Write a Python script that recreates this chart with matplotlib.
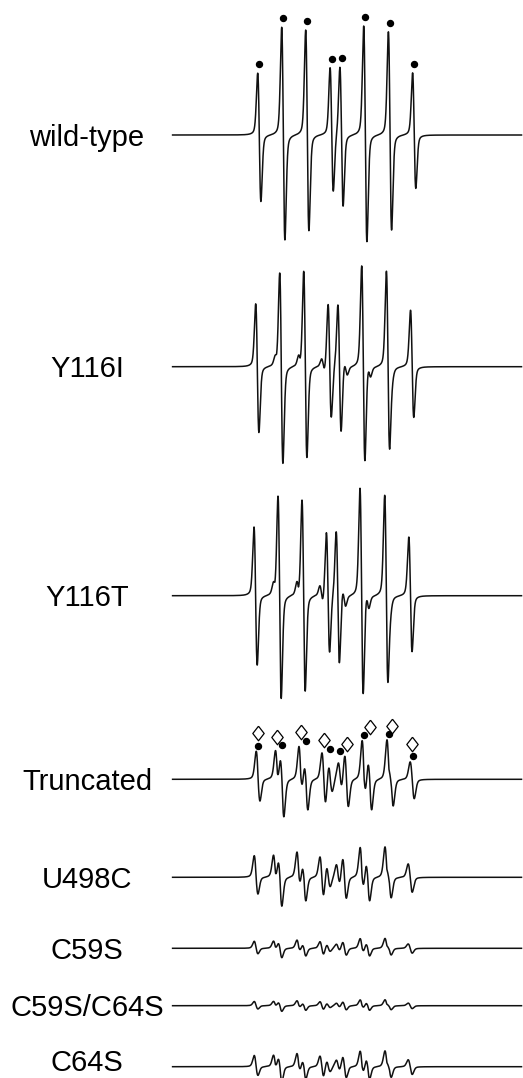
import numpy as np
import matplotlib
matplotlib.use("Agg")
import matplotlib.pyplot as plt

# ---------------- data ----------------
labels = ["wild-type", "Y116I", "Y116T", "Truncated", "U498C", "C59S", "C59S/C64S", "C64S"]

# line centres (field, arbitrary units) of the main radical (filled dots)
dot_lines = [87.3, 111.3, 135.3, 159.7, 169.5, 193.3, 218.0, 242.2]
# line centres of the second radical (open diamonds)
diamond_lines = [87.5, 106.6, 130.1, 153.1, 175.8, 199.1, 220.8, 240.8]

# peak heights (positive lobe) and depths (negative lobe) of each line
wt_pos = [61.7, 107.7, 105.0, 66.7, 69.0, 109.0, 103.3, 62.3]
wt_neg = [66.7, 105.0, 95.7, 57.7, 70.7, 106.7, 95.0, 53.3]
y116i_pos = [59.3, 95.0, 96.7, 62.3, 62.7, 100.7, 95.0, 56.0]
y116i_neg = [63.3, 96.7, 90.7, 51.7, 65.0, 95.0, 85.7, 49.0]
y116t_pos = [64.0, 101.3, 97.3, 63.3, 65.0, 107.3, 99.7, 58.0]
y116t_neg = [66.0, 102.7, 95.3, 57.7, 67.7, 99.3, 91.0, 53.7]
trunc_dot_pos = [14, 26, 18, 16, 16, 38, 36, 10]
trunc_dot_neg = [11, 37, 30, 12, 11, 16, 10, 11]
trunc_dia_pos = [14, 27, 32, 26, 26, 20, 14, 10]
trunc_dia_neg = [11, 10, 14, 26, 27, 30, 24, 11]

# per-trace field shift, line width and relative intensities of the two species
field_shift = [0.0, -2.0, -3.7, -1.3, -3.3, -3.3, -3.3, -3.3]
line_sigma = [1.6, 1.6, 1.6, 1.85, 1.85, 1.85, 1.85, 1.85]
dot_scale = [1.0, 1.0, 1.0, 1.0, 0.77, 0.25, 0.15, 0.40]
dia_scale = [0.0, 0.25, 0.33, 1.0, 0.77, 0.25, 0.15, 0.40]

# ---------------- layout / style ----------------
W, H = 523, 1078
baselines = [135, 366.7, 595.7, 779.3, 877.3, 948.3, 1005.7, 1066.7]
label_x = -85
frac_lor = 0.25
SMAX = 2 * (1 / np.sqrt(3)) / (4 / 3) ** 2


def _raw(u, sigma):
    g = -(u / sigma) * np.exp(-0.5 * (u / sigma) ** 2) / np.exp(-0.5)
    w = sigma * np.sqrt(3)
    v = u / w
    l = -2 * v / (1 + v * v) ** 2 / SMAX
    return (1 - frac_lor) * g + frac_lor * l


_grid = np.linspace(-10, 0, 20001)


def deriv(x, x0, apos, aneg, sigma):
    u = x - x0
    s = _raw(u, sigma) / _raw(_grid, sigma).max()
    return np.where(u < 0, apos * s, aneg * s)


main_pos = [wt_pos, y116i_pos, y116t_pos] + [trunc_dot_pos] * 5
main_neg = [wt_neg, y116i_neg, y116t_neg] + [trunc_dot_neg] * 5

field = np.linspace(0.6, 349.5, 5000)

fig = plt.figure(figsize=(W / 100, H / 100), dpi=100)
ax = fig.add_axes([0, 0, 1, 1])
ax.set_xlim(-172, W - 172)
ax.set_ylim(-H, 0)
ax.axis("off")

traces = []
for i, lab in enumerate(labels):
    y = np.zeros_like(field)
    for x0, ap, an in zip(dot_lines, main_pos[i], main_neg[i]):
        y += dot_scale[i] * deriv(field, x0 + field_shift[i], ap, an, line_sigma[i])
    if dia_scale[i] > 0:
        for x0, ap, an in zip(diamond_lines, trunc_dia_pos, trunc_dia_neg):
            y += dia_scale[i] * deriv(field, x0 + field_shift[i], ap, an, line_sigma[i])
    traces.append(y)
    ax.plot(field, y - baselines[i], color="#111111", lw=1.1, solid_joinstyle="round")
    ty = min(baselines[i] + 10.5, H - 7)
    ax.text(label_x, -ty, lab, ha="center", va="baseline",
            fontsize=21, family=["Liberation Sans", "DejaVu Sans"], color="black")


def local_max(y, x0, half):
    m = (field > x0 - half) & (field < x0 + half)
    return y[m].max()


# markers for wild-type
for x0 in dot_lines:
    xx = x0 + field_shift[0]
    yy = local_max(traces[0], xx, 4) + 9 - baselines[0]
    ax.plot(xx, yy, "o", color="black", ms=4.3)

# markers for truncated
ti = labels.index("Truncated")
dot_y = []
for x0 in dot_lines:
    xx = x0 + field_shift[ti]
    yy = local_max(traces[ti], xx, 8) + 5.5
    dot_y.append((xx, yy))
    ax.plot(xx, yy - baselines[ti], "o", color="black", ms=4.3)

diamond = [(0, 1), (0.78, 0), (0, -1), (-0.78, 0), (0, 1)]
for x0 in diamond_lines:
    xx = x0 + field_shift[ti]
    yy = local_max(traces[ti], xx, 4) + 12.5
    for dx, dy in dot_y:
        if abs(dx - xx) < 2:
            yy = max(yy, dy + 12.5)
        elif abs(dx - xx) < 6:
            yy = max(yy, dy + 8.5)
    ax.plot(xx, yy - baselines[ti], marker=diamond, ms=10.5, mfc="white",
            mec="black", mew=0.9, ls="none")

fig.savefig("out.png", dpi=100, facecolor="white")
